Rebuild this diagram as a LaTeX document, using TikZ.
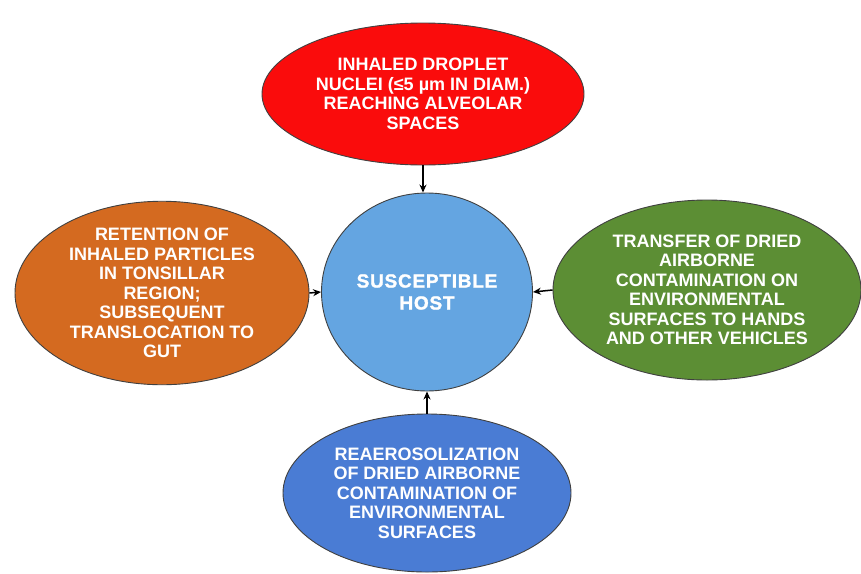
\documentclass[tikz,border=0pt]{standalone}
\usepackage{fontspec}
\setmainfont{Liberation Sans}
\newfontfamily\hostfont[LetterSpace=4,FakeBold=1.5]{Liberation Sans Bold}
\usetikzlibrary{shapes.geometric,arrows.meta}
\definecolor{cred}{RGB}{250,12,12}
\definecolor{corange}{RGB}{212,106,32}
\definecolor{cgreen}{RGB}{92,142,52}
\definecolor{chost}{RGB}{100,165,225}
\definecolor{cblue}{RGB}{74,124,212}
\tikzset{
  blob/.style={ellipse, inner sep=0pt, draw=black!75, line width=0.9pt,
    text=white, align=center,
    font=\fontsize{18}{19.5}\selectfont\bfseries},
  link/.style={-{Stealth[length=8pt,width=7pt]}, line width=1.5pt, black}
}
\begin{document}
\begin{tikzpicture}[x=1pt,y=-1pt]
\useasboundingbox (0,0) rectangle (861,573);
\node[blob, fill=cred, minimum width=322pt, minimum height=142pt] (top) at (423,94)
  {INHALED DROPLET\\NUCLEI (≤5 µm IN DIAM.)\\REACHING ALVEOLAR\\SPACES};
\node[blob, fill=chost, minimum width=211pt, minimum height=198pt,
  font=\fontsize{19}{22}\selectfont\mdseries\hostfont] (host) at (427,292)
  {SUSCEPTIBLE\\HOST};
\node[blob, fill=corange, minimum width=294pt, minimum height=180pt] (left) at (162,293)
  {RETENTION OF\\INHALED PARTICLES\\IN TONSILLAR\\REGION;\\SUBSEQUENT\\TRANSLOCATION TO\\GUT};
\node[blob, fill=cgreen, minimum width=308pt, minimum height=180pt] (right) at (707,290)
  {TRANSFER OF DRIED\\AIRBORNE\\CONTAMINATION ON\\ENVIRONMENTAL\\SURFACES TO HANDS\\AND OTHER VEHICLES};
\node[blob, fill=cblue, minimum width=288pt, minimum height=158pt] (bottom) at (427,493)
  {REAEROSOLIZATION\\OF DRIED AIRBORNE\\CONTAMINATION OF\\ENVIRONMENTAL\\SURFACES};
\draw[link] (top.south) -- (top.south |- host.north);
\draw[link] (left.east) -- (host.west);
\draw[link] (right.west) -- (host.east);
\draw[link] (bottom.north) -- (host.south);
\end{tikzpicture}
\end{document}
